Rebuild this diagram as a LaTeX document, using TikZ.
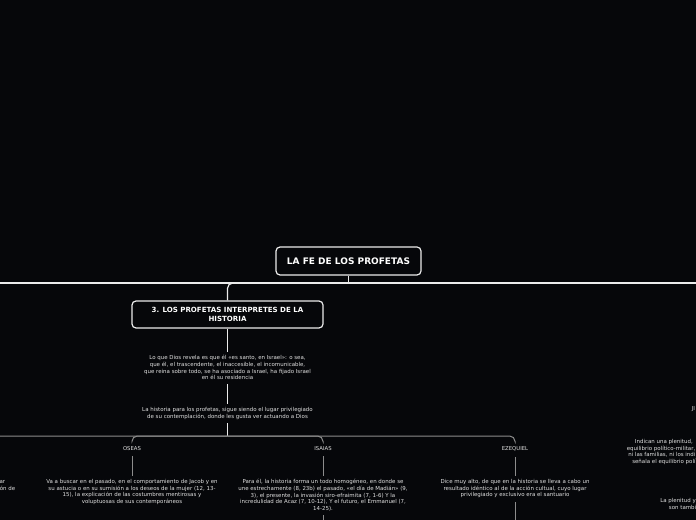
\documentclass[tikz,border=0pt]{standalone}
\usepackage{fontspec}
\setmainfont{DejaVu Sans}
\definecolor{bg}{RGB}{6,7,10}
\definecolor{txt}{RGB}{225,225,225}
\definecolor{lnw}{RGB}{235,235,235}
\definecolor{lng}{RGB}{140,140,140}
\begin{document}
\begin{tikzpicture}[x=0.75pt,y=-0.75pt,
  mainbox/.style={draw=lnw, line width=0.9pt, rounded corners=3pt, fill=bg, text=white, align=center, inner sep=0pt},
  smalltext/.style={text=txt, font=\fontsize{4.1}{5}\selectfont, align=center, inner xsep=0pt, inner ysep=2.8pt},
  lbl/.style={text=txt, font=\fontsize{4}{5}\selectfont, inner xsep=0pt, inner ysep=4pt},
  frag/.style={text=txt, font=\fontsize{4.1}{5}\selectfont, inner sep=0pt},
  mainline/.style={draw=lnw, line width=0.9pt},
  subline/.style={draw=lng, line width=0.75pt},
]
\fill[bg] (0,0) rectangle (696,520);
\useasboundingbox (0,0) rectangle (696,520);
\clip (0,0) rectangle (696,520);

% root
\node[mainbox, minimum width=108.75pt, minimum height=21pt, font=\bfseries\fontsize{6.75}{8}\selectfont] (root) at (348.5,261) {LA FE DE LOS PROFETAS};
\coordinate (hub) at (348.5,283);
\coordinate (leftend) at (0,283);
\coordinate (rightend) at (696,283);
\draw[mainline] (root.south) -- (hub);
\draw[mainline] (leftend) -- (rightend);

% section node
\node[mainbox, minimum width=143.25pt, minimum height=20.25pt, font=\bfseries\fontsize{5.3}{6.4}\selectfont] (sec) at (227.5,314.5) {3. LOS PROFETAS INTERPRETES DE LA\\HISTORIA};
\draw[mainline, rounded corners=4pt] (hub) -| (sec.north);

% texts
\node[smalltext, anchor=north] (t1) at (227.5,351.5) {Lo que Dios revela es que él «es santo, en Israel»: o sea,\\que él, el trascendente, el inaccesible, el incomunicable,\\que reina sobre todo, se ha asociado a Israel, ha fijado Israel\\en él su residencia};
\draw[mainline] (sec.south) -- (t1.north);

\node[smalltext, anchor=north] (t2) at (227.5,403.5) {La historia para los profetas, sigue siendo el lugar privilegiado\\de su contemplación, donde les gusta ver actuando a Dios};
\draw[mainline] (t1.south) -- (t2.north);

\coordinate (hub2) at (227.5,436);
\coordinate (lowleft) at (0,436);
\draw[mainline] (t2.south) -- (hub2);

% labels
\node[lbl, anchor=north] (os) at (132,441) {OSEAS};
\node[lbl, anchor=north] (is) at (323,441) {ISAIAS};
\node[lbl, anchor=north] (ez) at (515,441) {EZEQUIEL};
\draw[subline, rounded corners=4pt] (lowleft) -| (ez.north);
\draw[subline, rounded corners=4pt] (hub2) -| (os.north);
\draw[subline, rounded corners=4pt] (hub2) -| (is.north);

\node[smalltext, anchor=north] (ost) at (132,475.5) {Va a buscar en el pasado, en el comportamiento de Jacob y en\\su astucia o en su sumisión a los deseos de la mujer (12, 13-\\15), la explicación de las costumbres mentirosas y\\voluptuosas de sus contemporáneos};
\node[smalltext, anchor=north] (ist) at (323,475.5) {Para él, la historia forma un todo homogéneo, en donde se\\une estrechamente (8, 23b) el pasado, «el día de Madián» (9,\\3), el presente, la invasión siro-efraimita (7, 1-6) Y la\\incredulidad de Acaz (7, 10-12), Y el futuro, el Emmanuel (7,\\14-25).};
\node[smalltext, anchor=north] (ezt) at (515,475.5) {Dice muy alto, de que en la historia se lleva a cabo un\\resultado idéntico al de la acción cultual, cuyo lugar\\privilegiado y exclusivo era el santuario};
\draw[subline] (os.south) -- (ost.north);
\draw[subline] (is.south) -- (ist.north);
\draw[subline] (ez.south) -- (ezt.north);
\coordinate (isdown) at (323,525);
\coordinate (ezdown) at (515,525);
\draw[subline] (ist.south) -- (isdown);
\draw[subline] (ezt.south) -- (ezdown);

% cut-off fragments at the left edge
\node[frag, anchor=base east] (fl1) at (5.5,483.5) {ar};
\node[frag, anchor=base east] (fl2) at (15.5,490) {ón de};

% cut-off fragments at the right edge
\node[frag, anchor=base west] (fr0) at (691.5,410.5) {JI};
\node[frag, anchor=base west] (fr1) at (634.7,443.5) {Indican una plenitud,};
\node[frag, anchor=base west] (fr2) at (626.5,450.2) {equilibrio político-militar,};
\node[frag, anchor=base west] (fr3) at (628,456.8) {ni las familias, ni los indi};
\node[frag, anchor=base west] (fr4) at (632,463.5) {señala el equilibrio polí};
\node[frag, anchor=base west] (fr5) at (660,502.2) {La plenitud y};
\node[frag, anchor=base west] (fr6) at (668.7,509.2) {son tambi};
\end{tikzpicture}
\end{document}
